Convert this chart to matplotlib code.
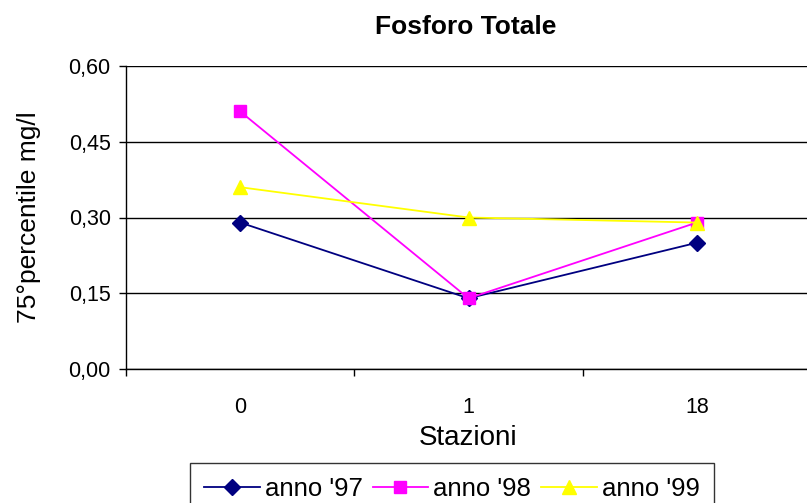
import matplotlib
matplotlib.use("Agg")
import matplotlib.pyplot as plt
from matplotlib.ticker import FixedLocator, FuncFormatter

plt.rcParams['font.family'] = ['Liberation Sans', 'DejaVu Sans']

stazioni = ['0', '1', '18']
anno_97 = [0.29, 0.14, 0.25]
anno_98 = [0.51, 0.14, 0.29]
anno_99 = [0.36, 0.30, 0.29]
series = [("anno '97", anno_97, '#000080', 'D', 8),
          ("anno '98", anno_98, '#FF00FF', 's', 9),
          ("anno '99", anno_99, '#FFFF00', '^', 10)]
y_ticks = [0.0, 0.15, 0.30, 0.45, 0.60]

W, H = 807, 503
fig = plt.figure(figsize=(W / 100, H / 100), dpi=100)
ax = fig.add_axes([126 / W, 1 - 369 / H, (811 - 126) / W, (369 - 66) / H])

x = list(range(len(stazioni)))
handles = []
for label, vals, color, marker, ms in series:
    h, = ax.plot(x, vals, color=color, marker=marker, markersize=ms, lw=1.3,
                 markeredgecolor=color, label=label, clip_on=False, zorder=3)
    handles.append(h)

ax.set_xlim(-0.5, len(stazioni) - 0.5)
ax.set_ylim(0, 0.60)
ax.set_yticks(y_ticks)
ax.yaxis.set_major_formatter(FuncFormatter(lambda v, p: f"{v:.2f}".replace('.', ',')))
ax.yaxis.grid(True, color='black', lw=1.0)
ax.set_axisbelow(True)

ax.set_xticks(x)
ax.set_xticklabels(stazioni)
ax.tick_params(axis='x', which='major', length=0, pad=20, labelsize=15.5)
ax.xaxis.set_minor_locator(FixedLocator([i - 0.5 for i in range(len(stazioni) + 1)]))
ax.tick_params(axis='x', which='minor', length=5, direction='out', width=1)
ax.tick_params(axis='y', length=5, width=1, labelsize=15.5, pad=6)

for s in ['top', 'right']:
    ax.spines[s].set_visible(False)
for s in ['left', 'bottom']:
    ax.spines[s].set_linewidth(1.0)
    ax.spines[s].set_color('black')

ax.set_xlabel('Stazioni', fontsize=20, labelpad=5)
ax.set_ylabel('75°percentile mg/l', fontsize=19, labelpad=20)
fig.text(466 / W, 1 - 27 / H, 'Fosforo Totale', ha='center', va='center',
         fontsize=19, fontweight='bold')

leg = fig.legend(handles=handles, loc='upper center', ncol=3,
                 bbox_to_anchor=(452 / W, 1 - 463 / H), borderaxespad=0,
                 fontsize=18.5, frameon=True, fancybox=False, edgecolor='black',
                 handlelength=2.15, handletextpad=0.2, columnspacing=0.4,
                 borderpad=0.55)
leg.get_frame().set_linewidth(1.0)

fig.savefig('out.png', dpi=100)
